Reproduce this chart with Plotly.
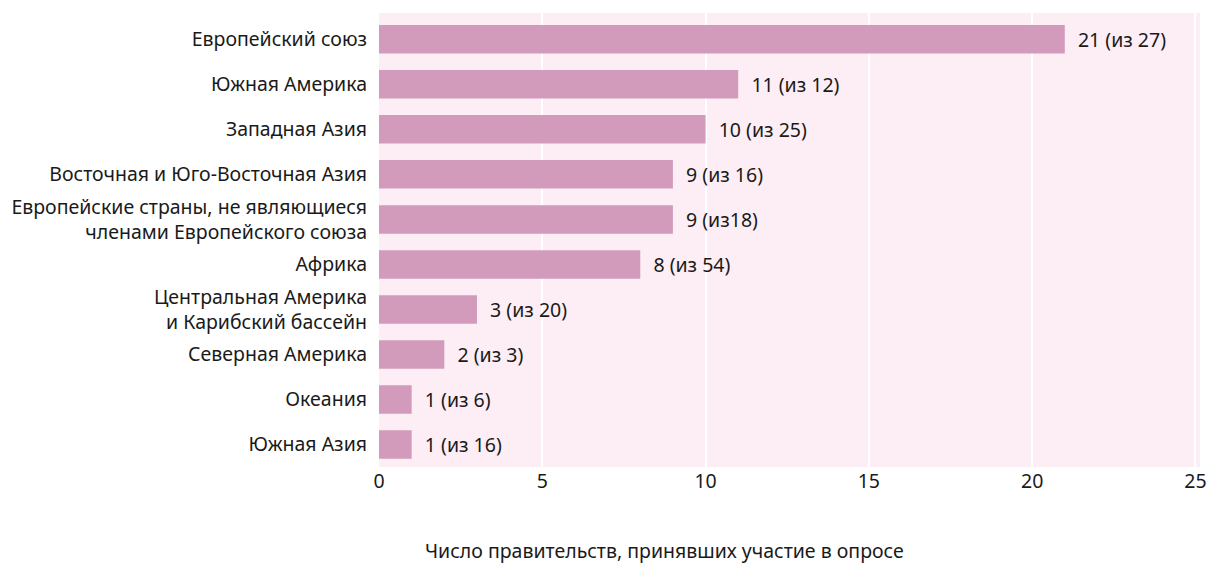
import plotly.graph_objects as go

categories = [
    "Европейский союз",
    "Южная Америка",
    "Западная Азия",
    "Восточная и Юго-Восточная Азия",
    "Европейские страны, не являющиеся<br>членами Европейского союза",
    "Африка",
    "Центральная Америка<br>и Карибский бассейн",
    "Северная Америка",
    "Океания",
    "Южная Азия",
]
values = [21, 11, 10, 9, 9, 8, 3, 2, 1, 1]
labels = ["21 (из 27)", "11 (из 12)", "10 (из 25)", "9 (из 16)", "9 (из18)",
          "8 (из 54)", "3 (из 20)", "2 (из 3)", "1 (из 6)", "1 (из 16)"]
tick_vals = [0, 5, 10, 15, 20, 25]
x_title = "Число правительств, принявших участие в опросе"

FONT = "Noto Sans"
SIZE = 19.5
COLOR = "#1a1a1a"

fig = go.Figure(go.Bar(
    x=values, y=categories, orientation="h",
    marker=dict(color="#d29bbb", line=dict(width=0)),
    text=["\u00a0\u00a0" + t for t in labels], textposition="outside", cliponaxis=False,
    textfont=dict(family=FONT, size=SIZE, color=COLOR),
))

fig.update_layout(
    width=1208, height=565,
    margin=dict(l=379, r=8, t=13, b=98, autoexpand=False),
    paper_bgcolor="white", plot_bgcolor="#fdeef5",
    bargap=0.367, showlegend=False,
    font=dict(family=FONT, size=SIZE, color=COLOR),
    uniformtext=dict(minsize=SIZE, mode="show"),
)
fig.update_yaxes(range=[9.50, -0.584], showgrid=False, ticks="", ticklen=0,
                 automargin=False, ticklabelstandoff=11,
                 tickfont=dict(family=FONT, size=SIZE, color=COLOR))
fig.update_xaxes(range=[0, 25.14], tickvals=tick_vals, showgrid=True,
                 gridcolor="white", gridwidth=2, zeroline=False, automargin=False,
                 tickfont=dict(family=FONT, size=SIZE, color=COLOR))
fig.add_annotation(text=x_title, xref="paper", yref="paper",
                   x=(664 - 379) / 821, y=-(550 - 467) / 454,
                   xanchor="center", yanchor="middle", showarrow=False,
                   font=dict(family=FONT, size=19.5, color=COLOR))

fig.write_html("out.html", config={"displayModeBar": False},
               post_script="document.body.style.margin='0';document.body.style.overflow='hidden';")
